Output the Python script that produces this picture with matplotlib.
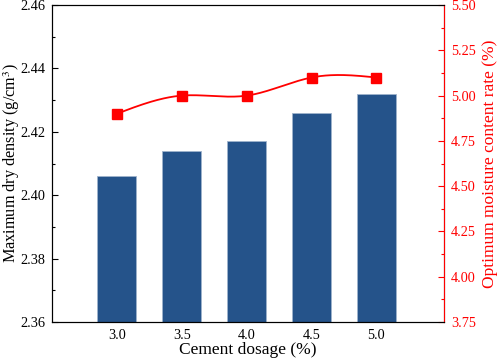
import numpy as np
import matplotlib.pyplot as plt

# data
dosage = [3.0, 3.5, 4.0, 4.5, 5.0]
dry_density = [2.406, 2.414, 2.417, 2.426, 2.432]
moisture = [4.90, 5.00, 5.00, 5.10, 5.10]
xtick_labels = ["3.0", "3.5", "4.0", "4.5", "5.0"]


def natural_spline(x, y, xs):
    x = np.asarray(x, float)
    y = np.asarray(y, float)
    n = len(x)
    h = np.diff(x)
    A = np.zeros((n, n))
    b = np.zeros(n)
    A[0, 0] = 1
    A[-1, -1] = 1
    for i in range(1, n - 1):
        A[i, i - 1] = h[i - 1]
        A[i, i] = 2 * (h[i - 1] + h[i])
        A[i, i + 1] = h[i]
        b[i] = 6 * ((y[i + 1] - y[i]) / h[i] - (y[i] - y[i - 1]) / h[i - 1])
    M = np.linalg.solve(A, b)
    out = np.empty_like(xs)
    for k, t in enumerate(xs):
        i = min(max(np.searchsorted(x, t) - 1, 0), n - 2)
        a = x[i + 1] - t
        c = t - x[i]
        out[k] = (M[i] * a**3 + M[i + 1] * c**3) / (6 * h[i]) \
            + (y[i] / h[i] - M[i] * h[i] / 6) * a \
            + (y[i + 1] / h[i] - M[i + 1] * h[i] / 6) * c
    return out


plt.rcParams['font.family'] = ['Liberation Serif', 'DejaVu Serif']
plt.rcParams['font.size'] = 10.3
plt.rcParams['mathtext.fontset'] = 'stix'

fig = plt.figure(figsize=(4.98, 3.61), dpi=100)
ax = fig.add_axes([0.1044, 0.108, 0.787, 0.878])

ax.bar(dosage, dry_density, width=0.3, color='#25538A', edgecolor='#9fb3cc',
       linewidth=0.6, zorder=2)
ax.set_xlim(2.5, 5.52)
ax.set_ylim(2.36, 2.46)
ax.set_xticks(dosage)
ax.set_xticklabels(xtick_labels)
ax.set_yticks(np.arange(2.36, 2.461, 0.02))
ax.set_yticks(np.arange(2.37, 2.46, 0.02), minor=True)
ax.yaxis.set_major_formatter(plt.FormatStrFormatter('%.2f'))
ax.tick_params(axis='both', direction='in', length=4, width=0.8, pad=5)
ax.tick_params(axis='y', which='minor', direction='in', length=2, width=0.8)
ax.tick_params(axis='x', which='both', top=False)
ax.set_xlabel('Cement dosage (%)', fontsize=12.5, labelpad=0)
ax.set_ylabel('Maximum dry density (g/cm$^3$)', fontsize=11.7)
ax.yaxis.set_label_coords(-0.077, 0.5)

ax2 = ax.twinx()
xs = np.linspace(dosage[0], dosage[-1], 200)
ax2.plot(xs, natural_spline(dosage, moisture, xs), color='red', lw=1.3, zorder=3)
ax2.plot(dosage, moisture, 's', color='red', markersize=7, zorder=4)
ax2.set_ylim(3.75, 5.50)
ax2.set_yticks(np.arange(3.75, 5.51, 0.25))
ax2.set_yticks(np.arange(3.875, 5.5, 0.25), minor=True)
ax2.yaxis.set_major_formatter(plt.FormatStrFormatter('%.2f'))
ax2.tick_params(axis='y', which='both', direction='in', colors='red', width=0.8, pad=5)
ax2.tick_params(axis='y', which='major', length=4)
ax2.tick_params(axis='y', which='minor', length=2)
ax2.spines['right'].set_color('red')
ax2.set_ylabel('Optimum moisture content rate (%)', color='red', fontsize=12.5)
ax2.yaxis.set_label_coords(1.097, 0.5)

fig.savefig('out.png', dpi=100)
